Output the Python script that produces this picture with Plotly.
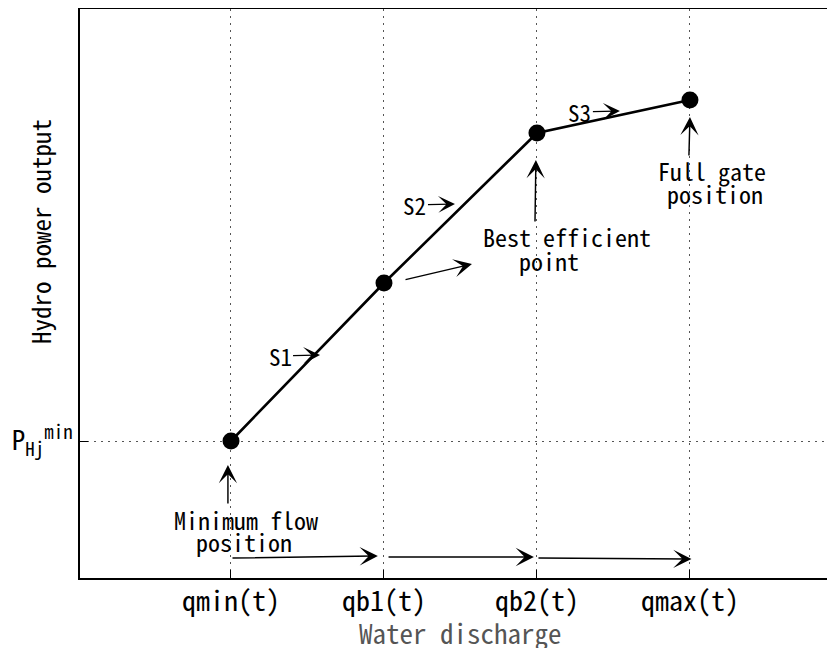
import plotly.graph_objects as go

# ---- data ----
categories = ["qmin(t)", "qb1(t)", "qb2(t)", "qmax(t)"]
discharge = [1, 2, 3, 4]
power = [1.37, 2.95, 4.45, 4.78]
p_min_label = "P<sub>Hj</sub><sup>min</sup>"
segment_labels = ["S1", "S2", "S3"]

FONT = "Noto Sans Mono CJK SC"

fig = go.Figure()
fig.add_trace(go.Scatter(
    x=discharge, y=power, mode="lines+markers",
    line=dict(color="black", width=2.6),
    marker=dict(color="black", size=17),
    showlegend=False, hoverinfo="skip"))

ann = []
AH = dict(showarrow=True, arrowhead=3, arrowsize=2.1, arrowwidth=1.45,
          arrowcolor="black", text="")

def arrow(tx, ty, hx, hy):
    ann.append(dict(x=hx, y=hy, ax=tx, ay=ty, xref="x", yref="y",
                    axref="x", ayref="y", **AH))

# vertical arrows pointing at the marked operating points
arrow(discharge[0] - 0.02, power[0] - 0.64, discharge[0] - 0.02, power[0] - 0.24)
arrow(discharge[2] - 0.013, power[2] - 0.90, discharge[2] - 0.007, power[2] - 0.27)
arrow(discharge[3] - 0.007, power[3] - 0.57, discharge[3], power[3] - 0.17)

txt_font = dict(family=FONT, size=24, color="black")
def label(x, y, s):
    ann.append(dict(x=x, y=y, text=s, xref="x", yref="y", showarrow=False,
                    borderpad=0, font=txt_font))

label(1.095, 0.59, "Minimum flow")
label(1.085, 0.37, "position")
label(3.196, 3.42, "Best efficient")
label(3.078, 3.18, "point")
label(4.144, 4.08, "Full gate")
label(4.163, 3.85, "position")

# segment labels with short arrows
seg_heads = [(1.582, 2.23), (2.464, 3.74), (3.542, 4.67)]
for lab, (hx, hy) in zip(segment_labels, seg_heads):
    ann.append(dict(x=hx, y=hy, ax=-40, ay=1, xref="x", yref="y",
                    text=lab, showarrow=True, arrowhead=3, arrowsize=2.0,
                    arrowwidth=1.4, arrowcolor="black", standoff=0,
                    font=dict(family=FONT, size=23, color="black")))

# loose arrow near qb1
arrow(2.131, 2.98, 2.575, 3.14)

# bottom arrows between discharge levels
arrow(1.0, 0.20, 1.96, 0.22)
arrow(2.02, 0.21, 2.98, 0.21)
arrow(3.0, 0.20, 4.01, 0.19)

# axis titles
ann.append(dict(x=0, xref="paper", xshift=-40, xanchor="center", y=3.46, yref="y",
                yanchor="middle", text="Hydro power output",
                textangle=-90, showarrow=False, font=dict(family=FONT, size=25, color="black")))
ann.append(dict(x=2.5, xref="x", xanchor="center", y=0, yref="paper", yanchor="middle",
                yshift=-54, text="Water discharge", borderpad=0,
                showarrow=False, font=dict(family=FONT, size=27, color="#555555")))

fig.update_layout(
    width=827, height=640,
    margin=dict(l=72, r=0, t=1, b=70),
    plot_bgcolor="white", paper_bgcolor="white",
    annotations=ann,
    xaxis=dict(range=[0.0131, 4.948], tickvals=discharge, ticktext=categories,
               showgrid=True, gridcolor="#555555", griddash="2px,5px", gridwidth=1,
               showline=True, linecolor="black", linewidth=2, mirror=True,
               ticks="inside", ticklen=8, tickcolor="black", tickwidth=1,
               ticklabelstandoff=-3,
               tickfont=dict(family=FONT, size=28, color="black"), zeroline=False),
    yaxis=dict(range=[0, 5.69], tickvals=[power[0]], ticktext=[p_min_label],
               showgrid=True, gridcolor="#555555", griddash="2px,5px", gridwidth=1,
               showline=True, linecolor="black", linewidth=2, mirror=False,
               ticks="inside", ticklen=8, tickcolor="black", tickwidth=1,
               tickfont=dict(family=FONT, size=27, color="black"), zeroline=False),
)

fig.write_html("out.html")
